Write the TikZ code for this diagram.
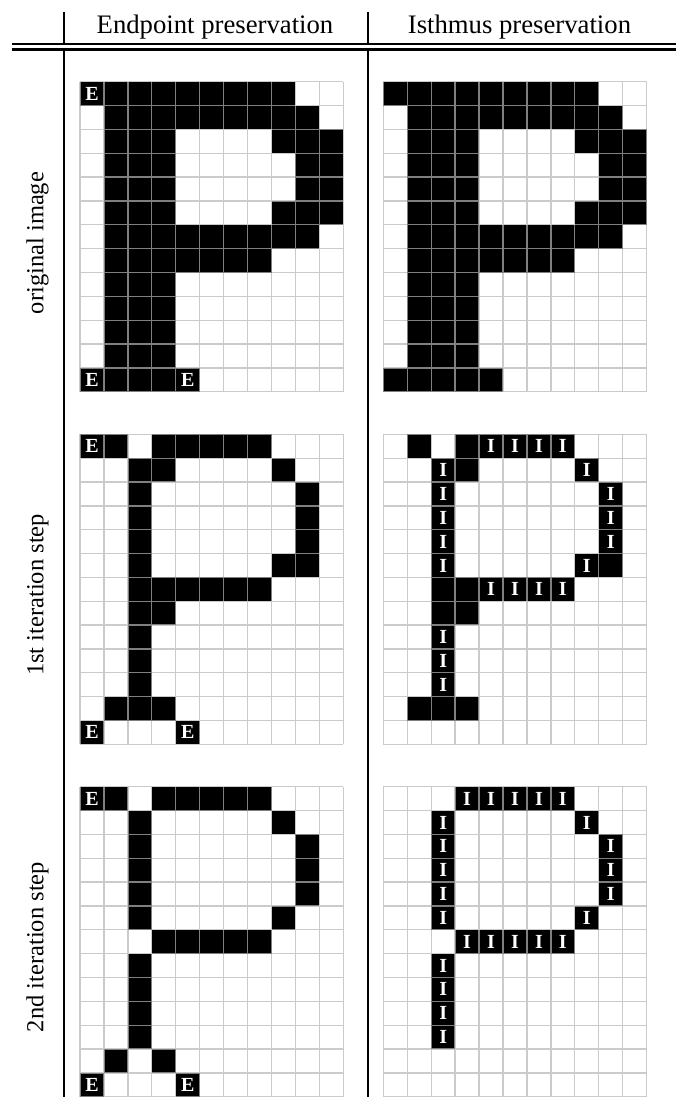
\documentclass[tikz,border=0pt]{standalone}
\usepackage{fontspec}
\setmainfont{Liberation Serif}
\definecolor{gline}{gray}{0.71}
\begin{document}
\begin{tikzpicture}[x=1pt,y=-1pt,
  rule/.style={line width=2.2pt, draw=black},
  hdr/.style={font=\fontsize{26.7}{30}\selectfont, inner sep=0pt, anchor=base},
  rowlab/.style={font=\fontsize{24.5}{28}\selectfont, inner sep=0pt, rotate=90, anchor=base},
  cell/.style={fill=black, draw=none, minimum width=23.94pt, minimum height=23.85pt, inner sep=0pt, text=white, font=\fontsize{20}{20}\selectfont\bfseries},
  gridline/.style={line width=1.3pt, draw=gline, draw opacity=0.7},
  gridscope/.style={x=23.94pt, y=-23.85pt},
]
\useasboundingbox (0,0) rectangle (676,1097);

% header
\node[hdr] (h1) at (215,33.3) {Endpoint preservation};
\node[hdr] (h2) at (519.5,33.3) {Isthmus preservation};

% row labels
\node[rowlab] (r1) at (43.3,243) {original image};
\node[rowlab] (r2) at (43.3,595) {1st iteration step};
\node[rowlab] (r3) at (43.3,947) {2nd iteration step};

% rules
\coordinate (ta) at (11.7,43.8); \coordinate (tb) at (676,43.8);
\coordinate (ba) at (11.7,49.5); \coordinate (bb) at (676,49.5);
\coordinate (l1) at (64,11.7); \coordinate (l2) at (64,42.7);
\coordinate (l3) at (64,50.7); \coordinate (l4) at (64,1097);
\coordinate (m1) at (368,11.7); \coordinate (m2) at (368,42.7);
\coordinate (m3) at (368,50.7); \coordinate (m4) at (368,1097);
\draw[rule] (ta) -- (tb);
\draw[rule] (ba) -- (bb);
\draw[rule] (l1) -- (l2);
\draw[rule] (l3) -- (l4);
\draw[rule] (m1) -- (m2);
\draw[rule] (m3) -- (m4);

% ---------- grid 1: original, endpoint ----------
\begin{scope}[shift={(80,81.7)}, gridscope]
  \foreach \r/\k in {0/1,0/2,0/3,0/4,0/5,0/6,0/7,0/8,
    1/1,1/2,1/3,1/4,1/5,1/6,1/7,1/8,1/9,
    2/1,2/2,2/3,2/8,2/9,2/10,
    3/1,3/2,3/3,3/9,3/10,
    4/1,4/2,4/3,4/9,4/10,
    5/1,5/2,5/3,5/8,5/9,5/10,
    6/1,6/2,6/3,6/4,6/5,6/6,6/7,6/8,6/9,
    7/1,7/2,7/3,7/4,7/5,7/6,7/7,
    8/1,8/2,8/3,9/1,9/2,9/3,10/1,10/2,10/3,11/1,11/2,11/3,
    12/1,12/2,12/3}
    \node[cell] (g1-\r-\k) at (\k+0.5,\r+0.5) {};
  \foreach \r/\k in {0/0,12/0,12/4}
    \node[cell] (g1-\r-\k) at (\k+0.5,\r+0.5) {E};
  \draw[gridline] \foreach \i in {0,...,11}{(\i,0) -- (\i,13)}
                  \foreach \j in {0,...,13}{(0,\j) -- (11,\j)};
\end{scope}

% ---------- grid 2: original, isthmus ----------
\begin{scope}[shift={(383.3,81.7)}, gridscope]
  \foreach \r/\k in {0/0,0/1,0/2,0/3,0/4,0/5,0/6,0/7,0/8,
    1/1,1/2,1/3,1/4,1/5,1/6,1/7,1/8,1/9,
    2/1,2/2,2/3,2/8,2/9,2/10,
    3/1,3/2,3/3,3/9,3/10,
    4/1,4/2,4/3,4/9,4/10,
    5/1,5/2,5/3,5/8,5/9,5/10,
    6/1,6/2,6/3,6/4,6/5,6/6,6/7,6/8,6/9,
    7/1,7/2,7/3,7/4,7/5,7/6,7/7,
    8/1,8/2,8/3,9/1,9/2,9/3,10/1,10/2,10/3,11/1,11/2,11/3,
    12/0,12/1,12/2,12/3,12/4}
    \node[cell] (g2-\r-\k) at (\k+0.5,\r+0.5) {};
  \draw[gridline] \foreach \i in {0,...,11}{(\i,0) -- (\i,13)}
                  \foreach \j in {0,...,13}{(0,\j) -- (11,\j)};
\end{scope}

% ---------- grid 3: 1st step, endpoint ----------
\begin{scope}[shift={(80,434.3)}, gridscope]
  \foreach \r/\k in {0/1,0/3,0/4,0/5,0/6,0/7,
    1/2,1/3,1/8,
    2/2,2/9,3/2,3/9,4/2,4/9,
    5/2,5/8,5/9,
    6/2,6/3,6/4,6/5,6/6,6/7,
    7/2,7/3,
    8/2,9/2,10/2,
    11/1,11/2,11/3}
    \node[cell] (g3-\r-\k) at (\k+0.5,\r+0.5) {};
  \foreach \r/\k in {0/0,12/0,12/4}
    \node[cell] (g3-\r-\k) at (\k+0.5,\r+0.5) {E};
  \draw[gridline] \foreach \i in {0,...,11}{(\i,0) -- (\i,13)}
                  \foreach \j in {0,...,13}{(0,\j) -- (11,\j)};
\end{scope}

% ---------- grid 4: 1st step, isthmus ----------
\begin{scope}[shift={(383.3,434.3)}, gridscope]
  \foreach \r/\k in {0/1,0/3,1/3,5/9,6/2,6/3,7/2,7/3,11/1,11/2,11/3}
    \node[cell] (g4-\r-\k) at (\k+0.5,\r+0.5) {};
  \foreach \r/\k in {0/4,0/5,0/6,0/7,
    1/2,1/8,
    2/2,2/9,3/2,3/9,4/2,4/9,
    5/2,5/8,
    6/4,6/5,6/6,6/7,
    8/2,9/2,10/2}
    \node[cell] (g4-\r-\k) at (\k+0.5,\r+0.5) {I};
  \draw[gridline] \foreach \i in {0,...,11}{(\i,0) -- (\i,13)}
                  \foreach \j in {0,...,13}{(0,\j) -- (11,\j)};
\end{scope}

% ---------- grid 5: 2nd step, endpoint ----------
\begin{scope}[shift={(80,786.7)}, gridscope]
  \foreach \r/\k in {0/1,0/3,0/4,0/5,0/6,0/7,
    1/2,1/8,
    2/2,2/9,3/2,3/9,4/2,4/9,
    5/2,5/8,
    6/3,6/4,6/5,6/6,6/7,
    7/2,8/2,9/2,10/2,
    11/1,11/3}
    \node[cell] (g5-\r-\k) at (\k+0.5,\r+0.5) {};
  \foreach \r/\k in {0/0,12/0,12/4}
    \node[cell] (g5-\r-\k) at (\k+0.5,\r+0.5) {E};
  \draw[gridline] \foreach \i in {0,...,11}{(\i,0) -- (\i,13)}
                  \foreach \j in {0,...,13}{(0,\j) -- (11,\j)};
\end{scope}

% ---------- grid 6: 2nd step, isthmus ----------
\begin{scope}[shift={(383.3,786.7)}, gridscope]
  \foreach \r/\k in {0/3,0/4,0/5,0/6,0/7,
    1/2,1/8,
    2/2,2/9,3/2,3/9,4/2,4/9,
    5/2,5/8,
    6/3,6/4,6/5,6/6,6/7,
    7/2,8/2,9/2,10/2}
    \node[cell] (g6-\r-\k) at (\k+0.5,\r+0.5) {I};
  \draw[gridline] \foreach \i in {0,...,11}{(\i,0) -- (\i,13)}
                  \foreach \j in {0,...,13}{(0,\j) -- (11,\j)};
\end{scope}
\end{tikzpicture}
\end{document}
